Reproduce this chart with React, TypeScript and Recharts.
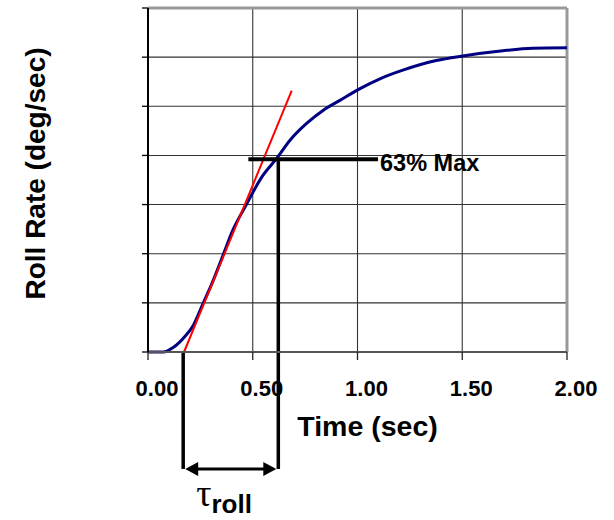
import React from 'react';
import { ComposedChart, Line, XAxis, YAxis, CartesianGrid, ReferenceLine } from 'recharts';

// Roll-rate response curve
const timeSec = [0, 0.04, 0.073, 0.12, 0.177, 0.216, 0.264, 0.304, 0.352, 0.407, 0.463, 0.543, 0.614, 0.678, 0.757, 0.837, 0.916, 1.012, 1.107, 1.22, 1.376, 1.495, 1.694, 1.837, 2.0];
const rollRate = [0, 0, 0, 0.09, 0.32, 0.54, 1.0, 1.38, 1.9, 2.5, 2.95, 3.56, 3.94, 4.31, 4.65, 4.92, 5.12, 5.36, 5.56, 5.74, 5.93, 6.02, 6.13, 6.18, 6.19];

// Tangent line at maximum slope
const tangentTime = [0.172, 0.686];
const tangentRate = [0, 5.32];

// Axis ticks
const xTicks = [0, 0.5, 1.0, 1.5, 2.0];
const yTicks = [0, 1, 2, 3, 4, 5, 6, 7];
const xMax = 2;
const yMax = 7;

// Annotation values (data units)
const maxLevel = 3.92;
const maxLineFrom = 0.479;
const maxLineTo = 1.098;
const maxLabel = '63% Max';
const tauStart = 0.168;
const tauEnd = 0.622;
const tauBelow = -2.38;

const curveData = timeSec.map((t, i) => ({ t, rate: rollRate[i] }));
const tangentData = tangentTime.map((t, i) => ({ t, rate: tangentRate[i] }));

const SANS = "'Liberation Sans', Arial, Helvetica, sans-serif";

const XTick = (props: any) => {
  const { x, y, payload } = props;
  return (
    <text x={x + 9} y={y + 36} textAnchor="middle" fontFamily={SANS} fontWeight="bold" fontSize={22} fill="#000">
      {Number(payload.value).toFixed(2)}
    </text>
  );
};

const EmptyTick = () => <g />;

const ArrowShape = (props: any) => {
  const { x1, y1, x2, y2 } = props;
  const lx = Math.min(x1, x2) + 2;
  const rx = Math.max(x1, x2) - 2;
  const y = (y1 + y2) / 2;
  const len = 13;
  const half = 7;
  return (
    <g>
      <line x1={lx + 6} y1={y} x2={rx - 6} y2={y} stroke="#000" strokeWidth={3} />
      <polygon points={`${lx},${y} ${lx + len},${y - half} ${lx + len},${y + half}`} fill="#000" />
      <polygon points={`${rx},${y} ${rx - len},${y - half} ${rx - len},${y + half}`} fill="#000" />
      <text x={lx + 11} y={y + 37} fill="#000">
        <tspan fontFamily="'Liberation Serif', 'Times New Roman', serif" fontSize={38}>τ</tspan>
        <tspan fontFamily={SANS} fontWeight="bold" fontSize={26} dy={7.5}>roll</tspan>
      </text>
    </g>
  );
};

const MaxLabel = (props: any) => {
  const { viewBox } = props;
  const x = viewBox.x + viewBox.width;
  const y = viewBox.y;
  return (
    <text x={x + 2} y={y + 12} fontFamily={SANS} fontWeight="bold" fontSize={23.5} fill="#000">
      {maxLabel}
    </text>
  );
};

export default function App() {
  return (
    <div style={{ position: 'absolute', left: 0, top: 0, width: 614, height: 520, background: '#fff' }}>
      <ComposedChart width={614} height={520} margin={{ top: 8, right: 47, bottom: 108, left: 88 }}>
        <CartesianGrid
          horizontal={true}
          vertical={true}
          horizontalValues={yTicks}
          verticalValues={xTicks}
          stroke="#333"
          strokeWidth={1.1}
        />
        <XAxis
          type="number"
          dataKey="t"
          domain={[0, xMax]}
          ticks={xTicks}
          interval={0}
          height={60}
          tickSize={8}
          tickMargin={0}
          tick={<XTick />}
          axisLine={{ stroke: '#555', strokeWidth: 2 }}
          tickLine={{ stroke: '#222', strokeWidth: 1.3 }}
          label={{
            content: () => (
              <text x={367.5} y={436} textAnchor="middle" fontFamily={SANS} fontWeight="bold" fontSize={28.5} fill="#000">
                Time (sec)
              </text>
            ),
          }}
        />
        <YAxis
          type="number"
          domain={[0, yMax]}
          ticks={yTicks}
          interval={0}
          width={60}
          tickSize={6}
          tick={<EmptyTick />}
          axisLine={{ stroke: '#000', strokeWidth: 2 }}
          tickLine={{ stroke: '#000', strokeWidth: 1.3 }}
          label={{
            content: () => (
              <text
                x={45}
                y={173.5}
                transform="rotate(-90 45 173.5)"
                textAnchor="middle"
                fontFamily={SANS}
                fontWeight="bold"
                fontSize={28}
                fill="#000"
              >
                Roll Rate (deg/sec)
              </text>
            ),
          }}
        />
        <ReferenceLine
          segment={[{ x: 0, y: yMax }, { x: xMax, y: yMax }]}
          stroke="#999"
          strokeWidth={3}
          ifOverflow="visible"
        />
        <ReferenceLine
          segment={[{ x: xMax, y: 0 }, { x: xMax, y: yMax }]}
          stroke="#999"
          strokeWidth={3}
          ifOverflow="visible"
        />
        <Line
          data={curveData}
          dataKey="rate"
          type="monotone"
          stroke="#000080"
          strokeWidth={3}
          dot={false}
          isAnimationActive={false}
        />
        <Line
          data={tangentData}
          dataKey="rate"
          type="linear"
          stroke="#ff0000"
          strokeWidth={2}
          dot={false}
          isAnimationActive={false}
        />
        <ReferenceLine
          segment={[{ x: maxLineFrom, y: maxLevel }, { x: maxLineTo, y: maxLevel }]}
          stroke="#000"
          strokeWidth={4}
          ifOverflow="visible"
          label={<MaxLabel />}
        />
        <ReferenceLine
          segment={[{ x: tauEnd, y: maxLevel }, { x: tauEnd, y: tauBelow }]}
          stroke="#000"
          strokeWidth={3.5}
          ifOverflow="visible"
        />
        <ReferenceLine
          segment={[{ x: tauStart, y: 0 }, { x: tauStart, y: tauBelow }]}
          stroke="#000"
          strokeWidth={3.5}
          ifOverflow="visible"
        />
        <ReferenceLine
          segment={[{ x: tauStart, y: tauBelow }, { x: tauEnd, y: tauBelow }]}
          ifOverflow="visible"
          shape={<ArrowShape />}
        />
      </ComposedChart>
    </div>
  );
}
